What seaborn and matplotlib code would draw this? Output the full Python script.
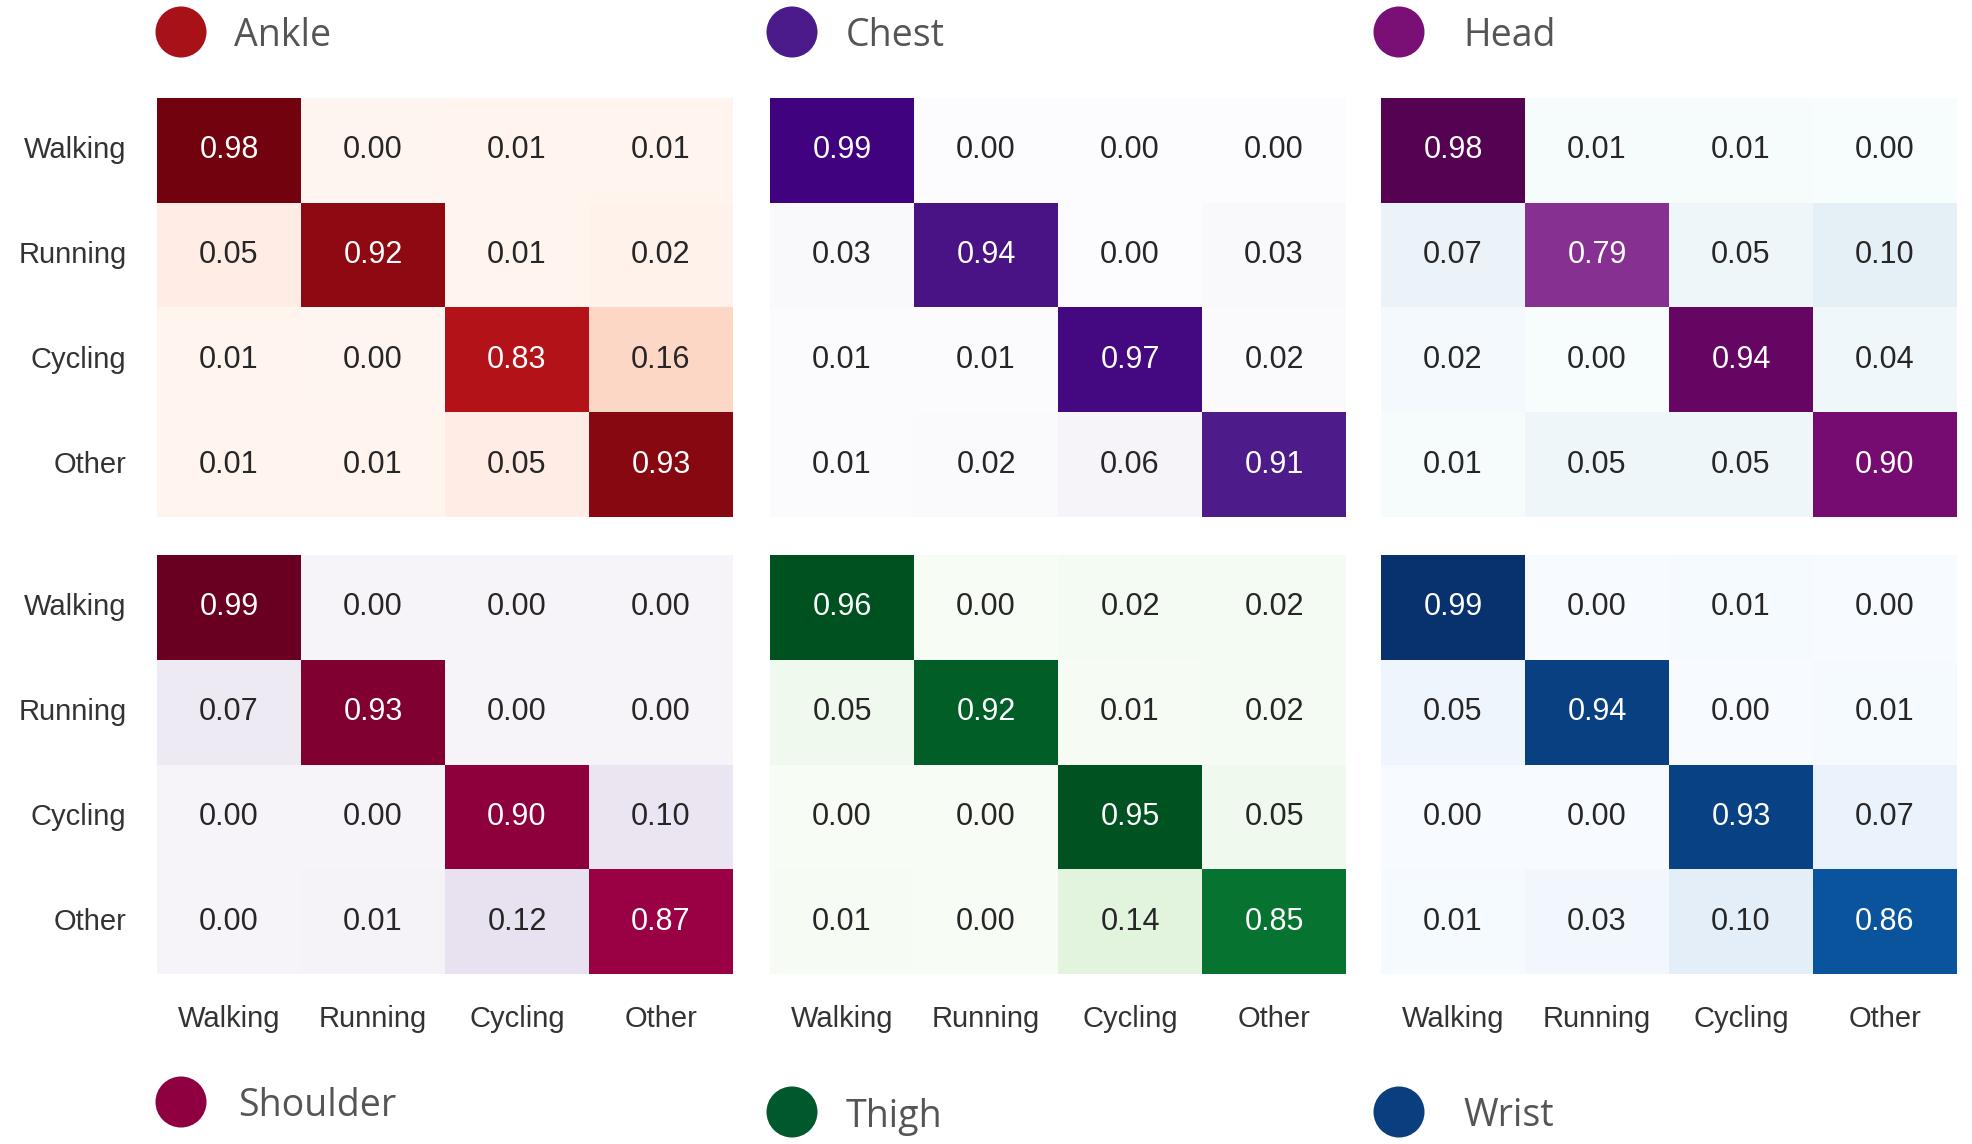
# Import matplotlib so we can create and save the figure.
import matplotlib.pyplot as plt

# Import seaborn so we can draw the heatmaps.
import seaborn as sns

# Import numpy for the small matrices.
import numpy as np


# -----------------------------
# Data: confusion matrices per sensor position
# -----------------------------

ACTIVITIES = ["Walking", "Running", "Cycling", "Other"]

ankle = [[0.98, 0.00, 0.01, 0.01],
         [0.05, 0.92, 0.01, 0.02],
         [0.01, 0.00, 0.83, 0.16],
         [0.01, 0.01, 0.05, 0.93]]

chest = [[0.99, 0.00, 0.00, 0.00],
         [0.03, 0.94, 0.00, 0.03],
         [0.01, 0.01, 0.97, 0.02],
         [0.01, 0.02, 0.06, 0.91]]

head = [[0.98, 0.01, 0.01, 0.00],
        [0.07, 0.79, 0.05, 0.10],
        [0.02, 0.00, 0.94, 0.04],
        [0.01, 0.05, 0.05, 0.90]]

shoulder = [[0.99, 0.00, 0.00, 0.00],
            [0.07, 0.93, 0.00, 0.00],
            [0.00, 0.00, 0.90, 0.10],
            [0.00, 0.01, 0.12, 0.87]]

thigh = [[0.96, 0.00, 0.02, 0.02],
         [0.05, 0.92, 0.01, 0.02],
         [0.00, 0.00, 0.95, 0.05],
         [0.01, 0.00, 0.14, 0.85]]

wrist = [[0.99, 0.00, 0.01, 0.00],
         [0.05, 0.94, 0.00, 0.01],
         [0.00, 0.00, 0.93, 0.07],
         [0.01, 0.03, 0.10, 0.86]]

POSITIONS = ["Ankle", "Chest", "Head", "Shoulder", "Thigh", "Wrist"]
MATRICES = [ankle, chest, head, shoulder, thigh, wrist]
CMAPS = ["Reds", "Purples", "BuPu", "PuRd", "Greens", "Blues"]
DOT_COLORS = ["#a81118", "#4b1a8b", "#7a0f76", "#8f0040", "#00592c", "#0a3f7f"]


# Use a plain white seaborn style.
sns.set_style("white")
plt.rcParams["font.family"] = ["Liberation Sans", "DejaVu Sans"]

# Create the figure at the target pixel size.
fig = plt.figure(figsize=(19.72, 11.44), dpi=100)

# Axes boxes in pixels (left, top) and the size of each heatmap.
W, H = 1972, 1144
col_left = [157, 770, 1381]
row_top = [98, 555]
box_w, box_h = 576, 419

# Title positions in pixels: circle centre x, text left x, centre y.
title_pos = [
    (181, 234, 32),
    (792, 846, 32),
    (1399, 1463, 32),
    (181, 238, 1102),
    (792, 846, 1112),
    (1399, 1463, 1112),
]

# Overlay axes covering the whole figure for the coloured dots.
overlay = fig.add_axes([0, 0, 1, 1])
overlay.set_xlim(0, W)
overlay.set_ylim(H, 0)
overlay.axis("off")

for i, (name, mat, cmap) in enumerate(zip(POSITIONS, MATRICES, CMAPS)):
    r, c = divmod(i, 3)
    left = col_left[c] / W
    bottom = 1 - (row_top[r] + box_h) / H
    ax = fig.add_axes([left, bottom, box_w / W, box_h / H])

    # Draw the heatmap for this sensor position.
    sns.heatmap(
        np.array(mat),
        ax=ax,
        cmap=cmap,
        vmin=0,
        vmax=1,
        annot=True,
        fmt=".2f",
        cbar=False,
        annot_kws={"size": 22},
        xticklabels=ACTIVITIES,
        yticklabels=ACTIVITIES,
    )

    ax.tick_params(length=0, pad=22, labelsize=21, labelcolor="#333333")
    plt.setp(ax.get_yticklabels(), rotation=0)

    # Only the outer panels keep their labels.
    if c != 0:
        ax.set_yticklabels([])
    if r != 1:
        ax.set_xticklabels([])

    # Coloured dot and position name.
    cx, tx, cy = title_pos[i]
    overlay.scatter([cx], [cy], s=1350, color=DOT_COLORS[i], edgecolors="none")
    overlay.text(tx, cy, name, fontsize=27, color="#555555",
                 family="Open Sans", va="center_baseline", ha="left")

# Save the figure as a PNG image.
fig.savefig("out.png", dpi=100)

# Close the figure.
plt.close(fig)
